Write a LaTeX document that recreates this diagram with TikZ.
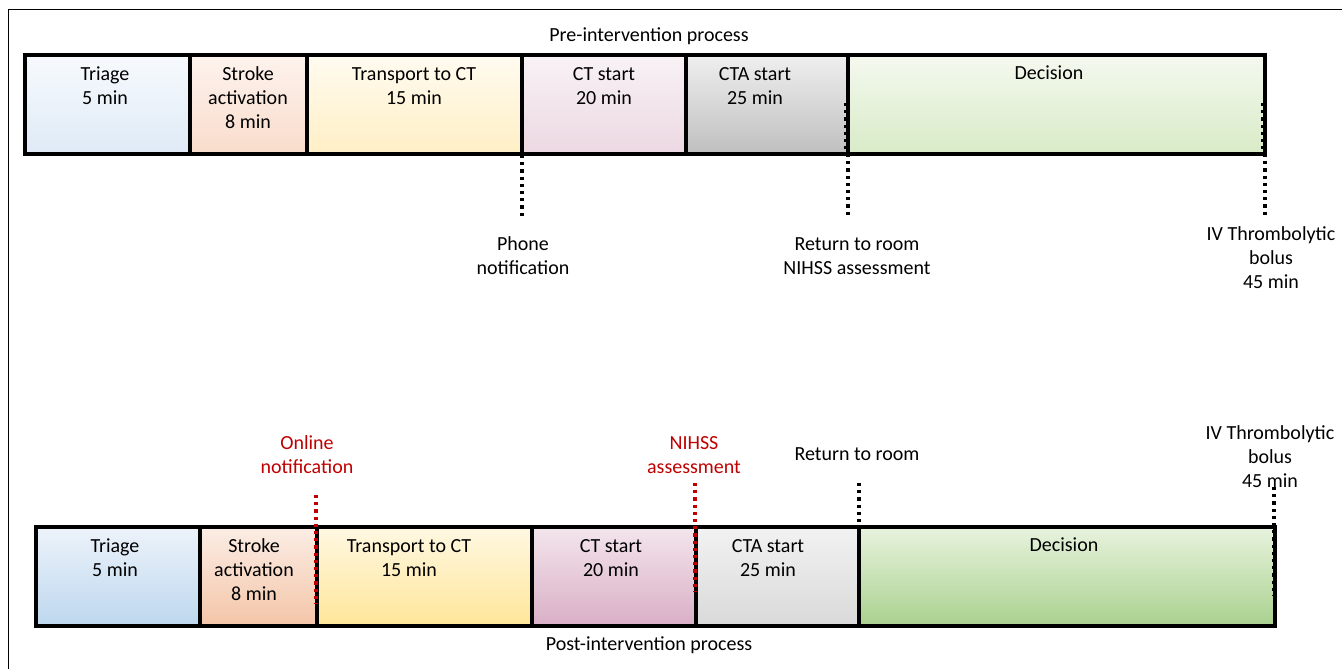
\documentclass[tikz,border=0pt]{standalone}
\usepackage{fontspec}
\setmainfont{Carlito}
\definecolor{triTop}{RGB}{247,250,253}
\definecolor{triBot}{RGB}{222,234,246}
\definecolor{strTop}{RGB}{253,243,238}
\definecolor{strBot}{RGB}{249,220,203}
\definecolor{traTop}{RGB}{255,251,240}
\definecolor{traBot}{RGB}{255,239,197}
\definecolor{ctTop}{RGB}{248,242,245}
\definecolor{ctBot}{RGB}{236,216,226}
\definecolor{ctaTop}{RGB}{239,239,239}
\definecolor{ctaBot}{RGB}{191,191,191}
\definecolor{decTop}{RGB}{244,249,239}
\definecolor{decBot}{RGB}{216,235,199}
\definecolor{triTopB}{RGB}{237,243,250}
\definecolor{triBotB}{RGB}{189,215,238}
\definecolor{strTopB}{RGB}{251,237,229}
\definecolor{strBotB}{RGB}{244,197,168}
\definecolor{traTopB}{RGB}{255,248,226}
\definecolor{traBotB}{RGB}{255,230,153}
\definecolor{ctTopB}{RGB}{243,229,236}
\definecolor{ctBotB}{RGB}{217,175,198}
\definecolor{ctaTopB}{RGB}{242,242,242}
\definecolor{ctaBotB}{RGB}{217,217,217}
\definecolor{decTopB}{RGB}{232,243,222}
\definecolor{decBotB}{RGB}{169,209,142}
\definecolor{noteRed}{RGB}{192,0,0}
\tikzset{every picture/.style={line width=0.75pt}}
\tikzset{
  stage/.style={draw=black, line width=3pt},
  marker/.style={line width=2.6pt, dash pattern=on 2.4pt off 3pt},
  txt/.style={font=\fontsize{15}{18}\selectfont, align=center, inner sep=0pt},
}

\begin{document}
\begin{tikzpicture}[x=0.75pt,y=0.75pt,yscale=-1,xscale=1]
\useasboundingbox (0,0) rectangle (1342,669);

%Shape: Frame
\draw (8,669) -- (8,9) -- (1342,9) ;

%Shape: Rectangle pre-intervention
\draw [stage, top color=triTop, bottom color=triBot] (25,55) rectangle (190,154) ;
\draw [stage, top color=strTop, bottom color=strBot] (190,55) rectangle (307,154) ;
\draw [stage, top color=traTop, bottom color=traBot] (307,55) rectangle (522,154) ;
\draw [stage, top color=ctTop, bottom color=ctBot] (522,55) rectangle (686,154) ;
\draw [stage, top color=ctaTop, bottom color=ctaBot] (686,55) rectangle (848,154) ;
\draw [stage, top color=decTop, bottom color=decBot] (848,55) rectangle (1265,154) ;

%Shape: Rectangle post-intervention
\draw [stage, top color=triTopB, bottom color=triBotB] (36,527) rectangle (200,626) ;
\draw [stage, top color=strTopB, bottom color=strBotB] (200,527) rectangle (317,626) ;
\draw [stage, top color=traTopB, bottom color=traBotB] (317,527) rectangle (532,626) ;
\draw [stage, top color=ctTopB, bottom color=ctBotB] (532,527) rectangle (696,626) ;
\draw [stage, top color=ctaTopB, bottom color=ctaBotB] (696,527) rectangle (859,626) ;
\draw [stage, top color=decTopB, bottom color=decBotB] (859,527) rectangle (1275,626) ;

% Text Node
\node [txt] (preTitle) at (649,36) {Pre-intervention process};
\node [txt] (preTriage) at (105,86) {Triage\\5 min};
\node [txt] (preStroke) at (248,98) {Stroke\\activation\\8 min};
\node [txt] (preTransport) at (414,86) {Transport to CT\\15 min};
\node [txt] (preCT) at (604,86) {CT start\\20 min};
\node [txt] (preCTA) at (755,86) {CTA start\\25 min};
\node [txt] (preDecision) at (1049,73) {Decision};
\node [txt] (prePhone) at (523,256) {Phone\\notification};
\node [txt] (preReturn) at (857,256) {Return to room\\NIHSS assessment};
\node [txt] (preBolus) at (1271,258) {IV Thrombolytic\\bolus\\45 min};

% Text Node
\node [txt] (postTitle) at (649,645) {Post-intervention process};
\node [txt] (postTriage) at (115,558) {Triage\\5 min};
\node [txt] (postStroke) at (254,570) {Stroke\\activation\\8 min};
\node [txt] (postTransport) at (409,558) {Transport to CT\\15 min};
\node [txt] (postCT) at (611,558) {CT start\\20 min};
\node [txt] (postCTA) at (768,558) {CTA start\\25 min};
\node [txt] (postDecision) at (1064,545) {Decision};
\node [txt, text=noteRed] (postOnline) at (307,455) {Online\\notification};
\node [txt, text=noteRed] (postNIHSS) at (694,455) {NIHSS\\assessment};
\node [txt] (postReturn) at (857,454) {Return to room};
\node [txt] (postBolus) at (1270,457) {IV Thrombolytic\\bolus\\45 min};

% Markers
\coordinate (phoneA) at (522,155); \coordinate (phoneB) at (522,216);
\coordinate (returnA) at (846,103); \coordinate (returnB) at (846,154);
\coordinate (returnC) at (848,154); \coordinate (returnD) at (848,216);
\coordinate (bolusA) at (1263,103); \coordinate (bolusB) at (1263,154);
\coordinate (bolusE) at (1265,154); \coordinate (bolusF) at (1265,216);
\coordinate (onlineA) at (316,495); \coordinate (onlineB) at (316,604);
\coordinate (nihssA) at (695,483); \coordinate (nihssB) at (695,592);
\coordinate (backA) at (859,483); \coordinate (backB) at (859,592);
\coordinate (bolusC) at (1274,487); \coordinate (bolusD) at (1274,596);

\draw [marker] (phoneA) -- (phoneB) ;
\draw [marker] (returnA) -- (returnB) ;
\draw [marker] (returnC) -- (returnD) ;
\draw [marker] (bolusA) -- (bolusB) ;
\draw [marker] (bolusE) -- (bolusF) ;
\draw [marker, noteRed] (onlineA) -- (onlineB) ;
\draw [marker, noteRed] (nihssA) -- (nihssB) ;
\draw [marker] (backA) -- (backB) ;
\draw [marker] (bolusC) -- (bolusD) ;

\end{tikzpicture}
\end{document}
